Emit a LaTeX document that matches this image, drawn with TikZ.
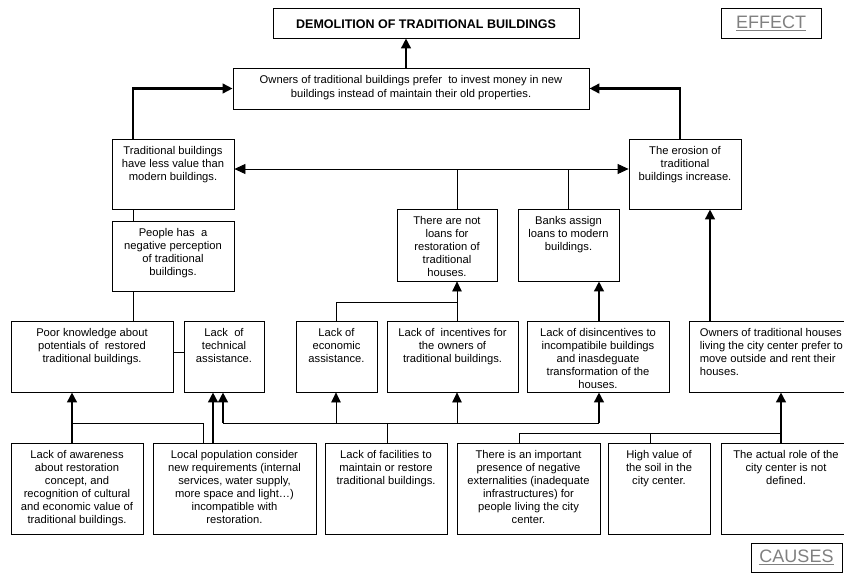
\documentclass[tikz,border=0pt]{standalone}
\usepackage{fontspec}
\setmainfont{Liberation Sans}
\usetikzlibrary{arrows.meta,fit}
\definecolor{lbl}{HTML}{808080}
\begin{document}
\begin{tikzpicture}[x=1pt,y=-1pt,
  box/.style={draw, line width=0.8pt, inner sep=0pt},
  txt/.style={anchor=north, align=center, inner sep=0pt, font=\fontsize{11.2}{13}\selectfont},
  ln/.style={line width=0.8pt},
  thk/.style={line width=2.8pt},
  arr/.style={-{Triangle[width=9.5pt,length=10pt]}},
  arrboth/.style={{Triangle[width=10pt,length=11pt]}-{Triangle[width=10pt,length=11pt]}},
]
\useasboundingbox (0,0) rectangle (844,573);
\newcommand\bx[6]{\node[box,fit={(#2,#3)(#4,#5)}] (#1) {};
  \node[txt] (#1-t) at ([yshift=-8pt]#1.north) {#6};}

% boxes
\node[box,fit={(273,8)(579,38)}] (demol) {};
\node[inner sep=0pt, font=\fontsize{12.5}{14}\selectfont\bfseries] (demol-t) at ([yshift=-1pt]demol.center) {DEMOLITION OF TRADITIONAL BUILDINGS};
\node[box,fit={(721,8)(821,38)}] (effect) {};
\node[inner sep=0pt, text=lbl, font=\fontsize{18}{20}\selectfont] (effect-t) at (effect.center) {\underline{EFFECT}};
\node[box,fit={(751,543)(842,572)}] (causes) {};
\node[inner sep=0pt, text=lbl, font=\fontsize{18}{20}\selectfont] (causes-t) at (causes.center) {\underline{CAUSES}};

\node[box,fit={(233,68)(589,109)}] (owners) {};
\node[txt, font=\fontsize{11.2}{14}\selectfont] (owners-t) at ([yshift=-8pt]owners.north) {Owners of traditional buildings prefer~ to invest money in new\\buildings instead of maintain their old properties.};

\bx{tb}{112}{139}{234}{209}{Traditional buildings\\have less value than\\modern buildings.}
\bx{pp}{112}{221}{234}{291}{People has~ a\\negative perception\\of traditional\\buildings.}
\bx{er}{629}{139}{741}{209}{The erosion of\\traditional\\buildings increase.}
\bx{nl}{397}{209}{497}{281}{There are not\\loans for\\restoration of\\traditional\\houses.}
\bx{bk}{518}{209}{619}{281}{Banks assign\\loans to modern\\buildings.}

\bx{pk}{11}{321}{173}{392}{Poor knowledge about\\potentials of~ restored\\traditional buildings.}
\bx{lt}{184}{321}{264}{392}{Lack~ of\\technical\\assistance.}
\bx{le}{296}{321}{377}{392}{Lack of\\economic\\assistance.}
\bx{li}{387}{321}{518}{392}{Lack of~ incentives for\\the owners of\\traditional buildings.}
\bx{ld}{527}{321}{669}{392}{Lack of disincentives to\\incompatibile buildings\\and inasdeguate\\transformation of the\\houses.}
\node[box,fit={(689,321)(850,392)}] (oh) {};
\node[txt, anchor=north west, align=left] (oh-t) at ([xshift=11pt,yshift=-8pt]oh.north west) {Owners of traditional houses\\living the city center prefer to\\move outside and rent their\\houses.};

\bx{la}{11}{443}{143}{534}{Lack of awareness\\about restoration\\concept, and\\recognition of cultural\\and economic value of\\traditional buildings.}
\bx{lp}{153}{443}{316}{534}{Local population consider\\new requirements (internal\\services, water supply,\\more space and light…)\\incompatible with\\restoration.}
\bx{lf}{325}{443}{447}{534}{Lack of facilities to\\maintain or restore\\traditional buildings.}
\bx{ti}{457}{443}{600}{534}{There is an important\\presence of negative\\externalities (inadequate\\infrastructures) for\\people living the city\\center.}
\bx{hv}{608}{443}{710}{534}{High value of\\the soil in the\\city center.}
\bx{ar}{721}{443}{851}{534}{The actual role of the\\city center is not\\defined.}

% helper coordinates
\coordinate (xA) at (133,0);
\coordinate (xB) at (680,0);
\coordinate (xC) at (457,0);
\coordinate (xE) at (336,0);
\coordinate (xF) at (599,0);
\coordinate (xG) at (710,0);
\coordinate (x72) at (72,0);
\coordinate (x203) at (203,0);
\coordinate (x213) at (213,0);
\coordinate (x223) at (223,0);
\coordinate (x387) at (387,0);
\coordinate (x519) at (519,0);
\coordinate (x650) at (650,0);
\coordinate (x781) at (781,0);
\coordinate (hy) at (0,169);
\coordinate (yM) at (0,352);
\coordinate (y302) at (0,302);
\coordinate (y423) at (0,423);
\coordinate (y433) at (0,433);

% top connectors
\draw[thk,arr] ([xshift=-5pt]owners.north) -- ([xshift=-5pt]owners.north |- demol.south);
\draw[thk,arr] (xA |- tb.north) |- (owners.west);
\draw[thk,arr] (xB |- er.north) |- (owners.east);
\draw[ln,arrboth] (tb.east |- hy) -- (er.west |- hy);
\draw[ln] (xC |- nl.north) -- (xC |- hy);
\draw[ln] (bk.north) -- (bk.north |- hy);
\draw[ln] (xA |- tb.south) -- (xA |- pp.north);
\draw[ln] (xA |- pp.south) -- (xA |- pk.north);
\draw[ln] (pk.east |- yM) -- (lt.west |- yM);
\draw[ln] (xE |- le.north) |- (xC |- y302);
\draw[ln,arr] (xC |- li.north) -- (xC |- nl.south);
\draw[thk,arr] (xF |- ld.north) -- (xF |- bk.south);
\draw[thk,arr] (xG |- oh.north) -- (xG |- er.south);

% bottom connectors
\draw[thk,arr] (x72 |- la.north) -- (x72 |- pk.south);
\draw[ln] (x203 |- lp.north) |- (x72 |- y423);
\draw[thk,arr] (x213 |- lp.north) -- (x213 |- lt.south);
\draw[ln] (x387 |- lf.north) -- (x387 |- y423);
\draw[ln] (x223 |- y423) -- (xF |- y423);
\draw[thk,arr] (x223 |- y423) -- (x223 |- lt.south);
\draw[ln,arr] (xE |- y423) -- (xE |- le.south);
\draw[ln,arr] (xC |- y423) -- (xC |- li.south);
\draw[thk,arr] (xF |- y423) -- (xF |- ld.south);
\draw[ln] (x519 |- ti.north) |- (x781 |- y433);
\draw[ln] (x650 |- hv.north) -- (x650 |- y433);
\draw[thk,arr] (x781 |- ar.north) -- (x781 |- oh.south);
\end{tikzpicture}
\end{document}
